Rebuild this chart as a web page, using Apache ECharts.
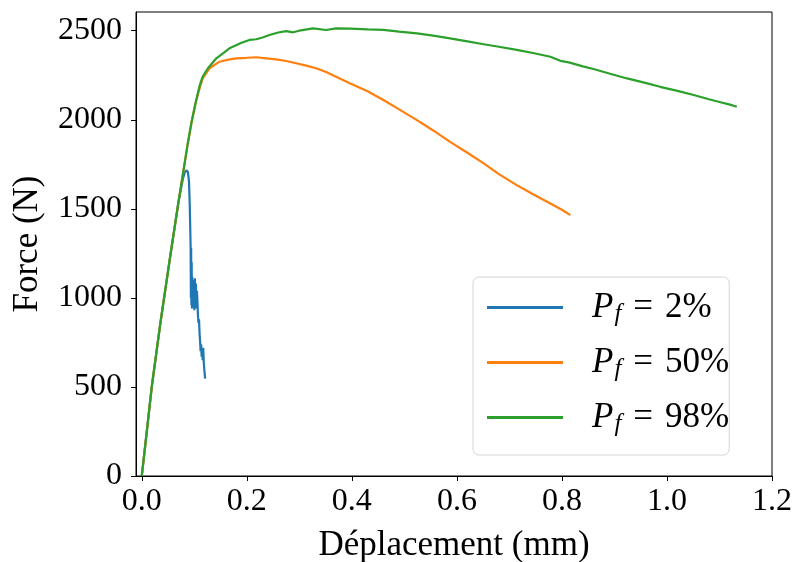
<!DOCTYPE html>
<html>
<head>
<meta charset="utf-8">
<script src="https://cdn.jsdelivr.net/npm/echarts@6/dist/echarts.min.js"></script>
<style>
html,body{margin:0;padding:0;background:#fff;}
#chart{width:795px;height:562px;}
</style>
</head>
<body>
<div id="chart"></div>
<script>
// ---- data ----
const seriesNames = ['2%', '50%', '98%'];
const xTicks = [0, 0.2, 0.4, 0.6, 0.8, 1.0, 1.2];
const yTicks = [0, 500, 1000, 1500, 2000, 2500];

const blueX = [0,0.019,0.035,0.054,0.07,0.078,0.082,0.0857,0.088,0.090,0.0915,0.093,0.0935,0.094,0.0945,0.095,0.0955,0.096,0.097,0.098,0.099,0.0996,0.100,0.101,0.102,0.103,0.104,0.105,0.106,0.107,0.108,0.109,0.110,0.111,0.112,0.113,0.114,0.115,0.116,0.117,0.118,0.119,0.1206];
const blueY = [0,500,850,1230,1540,1665,1705,1717,1705,1650,1500,1290,1000,1280,960,1200,940,1120,980,1090,950,1100,930,1110,990,1080,940,1040,980,900,860,880,800,760,700,740,670,720,650,720,640,600,547];

const orangeX = [0,0.01,0.019,0.035,0.054,0.07,0.0876,0.095,0.103,0.11,0.116,0.129,0.148,0.165,0.18,0.2,0.218,0.237,0.256,0.275,0.294,0.313,0.332,0.351,0.37,0.397,0.43,0.46,0.49,0.524,0.555,0.587,0.62,0.651,0.68,0.714,0.745,0.778,0.80,0.816];
const orangeY = [0,260,500,850,1230,1540,1867,1990,2101,2175,2232,2289,2326,2338,2345,2348,2351,2345,2339,2330,2317,2304,2289,2268,2242,2204,2160,2111,2058,1998,1940,1876,1815,1755,1695,1633,1582,1530,1495,1465];

const greenX = [0,0.01,0.019,0.035,0.054,0.07,0.0876,0.095,0.103,0.11,0.116,0.126,0.142,0.167,0.19,0.205,0.218,0.23,0.243,0.26,0.275,0.288,0.3,0.326,0.351,0.37,0.397,0.43,0.46,0.49,0.524,0.555,0.587,0.62,0.651,0.68,0.714,0.745,0.778,0.797,0.813,0.84,0.86,0.89,0.924,0.955,0.987,1.02,1.051,1.08,1.1,1.12,1.133];
const greenY = [0,260,500,850,1230,1540,1867,1990,2101,2190,2242,2289,2345,2401,2432,2448,2452,2462,2476,2490,2498,2491,2500,2513,2504,2513,2512,2508,2505,2495,2485,2472,2457,2440,2424,2410,2392,2375,2354,2331,2322,2300,2285,2260,2232,2210,2185,2162,2139,2115,2100,2085,2073];

const colors = ['#1f77b4', '#ff7f0e', '#2ca02c'];
// --------------

const FONT = '"Liberation Serif", "DejaVu Serif", serif';
const pairs = (xs, ys) => xs.map((x, i) => [x, ys[i]]);
const allX = [blueX, orangeX, greenX];
const allY = [blueY, orangeY, greenY];

const chart = echarts.init(document.getElementById('chart'), null, {renderer: 'canvas'});
chart.setOption({
  animation: false,
  backgroundColor: '#fff',
  grid: {left: 136, right: 23, top: 12, bottom: 86, show: true, borderColor: '#000', borderWidth: 1,
         containLabel: false, outerBoundsMode: 'none'},
  xAxis: {
    type: 'value', min: -0.011, max: 1.2,
    axisLine: {show: true, onZero: false, lineStyle: {color: '#000', width: 1}},
    axisTick: {show: true, customValues: xTicks, length: 5, lineStyle: {color: '#000', width: 1}},
    axisLabel: {customValues: xTicks, formatter: v => v.toFixed(1), fontSize: 32, fontFamily: FONT, color: '#000', margin: 10},
    splitLine: {show: false},
    name: 'Déplacement (mm)', nameLocation: 'middle', nameGap: 52,
    nameTextStyle: {fontSize: 35, fontFamily: FONT, color: '#000'}
  },
  yAxis: {
    type: 'value', min: 0, max: 2605,
    axisLine: {show: true, onZero: false, lineStyle: {color: '#000', width: 1}},
    axisTick: {show: true, customValues: yTicks, length: 5, lineStyle: {color: '#000', width: 1}},
    axisLabel: {customValues: yTicks, formatter: v => String(v), fontSize: 32, fontFamily: FONT, color: '#000', margin: 14},
    splitLine: {show: false},
    name: 'Force (N)', nameLocation: 'middle', nameGap: 91,
    nameTextStyle: {fontSize: 35, fontFamily: FONT, color: '#000'}
  },
  legend: {
    orient: 'vertical', left: 473, top: 277,
    padding: [11, 0, 18, 14],
    itemGap: 16, itemWidth: 76, itemHeight: 3, icon: 'rect',
    backgroundColor: 'rgba(255,255,255,0.8)', borderColor: '#d5d5d5', borderWidth: 1, borderRadius: 6,
    formatter: name => '{i|P}{s|f}{e|=}{n|' + name + '}',
    textStyle: {
      padding: [0, 0, 0, 24],
      rich: {
        i: {fontFamily: FONT, fontStyle: 'italic', fontSize: 35, lineHeight: 40, color: '#000'},
        s: {fontFamily: FONT, fontStyle: 'italic', fontSize: 25, lineHeight: 25, padding: [14, 0, 0, 1], color: '#000'},
        e: {fontFamily: FONT, fontSize: 35, lineHeight: 40, padding: [0, 12, 0, 12], color: '#000'},
        n: {fontFamily: FONT, fontSize: 35, lineHeight: 40, color: '#000'}
      }
    },
    data: seriesNames
  },
  series: seriesNames.map((n, k) => ({
    name: n, type: 'line', symbol: 'none', showSymbol: false,
    data: pairs(allX[k], allY[k]),
    lineStyle: {color: colors[k], width: 2.2},
    itemStyle: {color: colors[k]}
  }))
});
</script>
</body>
</html>
